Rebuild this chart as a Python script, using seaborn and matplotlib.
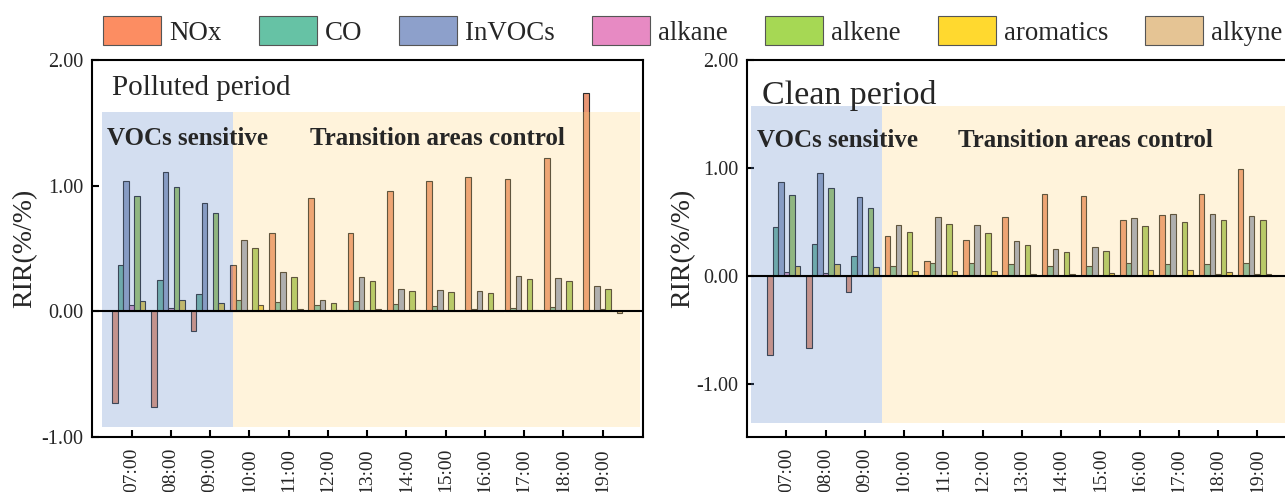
import numpy as np
import pandas as pd
import matplotlib
matplotlib.use("Agg")
import matplotlib.pyplot as plt
from matplotlib.patches import Rectangle, Patch
import seaborn as sns

# ---------------- data ----------------
hours = ['07:00', '08:00', '09:00', '10:00', '11:00', '12:00', '13:00',
         '14:00', '15:00', '16:00', '17:00', '18:00', '19:00']
species = ['NOx', 'CO', 'InVOCs', 'alkane', 'alkene', 'aromatics', 'alkyne']

pol_NOx = [-0.73, -0.765, -0.16, 0.37, 0.625, 0.90, 0.625, 0.955, 1.035, 1.07, 1.05, 1.22, 1.735]
pol_CO = [0.37, 0.25, 0.14, 0.09, 0.075, 0.05, 0.085, 0.06, 0.045, 0.02, 0.025, 0.035, 0.01]
pol_InVOCs = [1.04, 1.105, 0.86, 0.57, 0.31, 0.09, 0.275, 0.175, 0.17, 0.16, 0.28, 0.265, 0.20]
pol_alkane = [0.05, 0.025, 0.01, 0.01, 0.005, 0.005, 0.005, 0.005, 0.005, 0.005, 0.005, 0.005, 0.02]
pol_alkene = [0.915, 0.99, 0.78, 0.505, 0.275, 0.07, 0.245, 0.16, 0.155, 0.145, 0.255, 0.24, 0.18]
pol_aromatics = [0.085, 0.09, 0.07, 0.05, 0.02, 0.01, 0.02, 0.01, 0.005, 0.005, 0.01, 0.005, 0.003]
pol_alkyne = [0.005, 0.005, 0.003, 0.005, 0.005, 0.003, 0.003, 0.003, 0.003, 0.003, 0.003, 0.003, -0.01]

cln_NOx = [-0.735, -0.67, -0.145, 0.375, 0.14, 0.33, 0.55, 0.755, 0.745, 0.52, 0.565, 0.755, 0.995]
cln_CO = [0.45, 0.30, 0.185, 0.09, 0.12, 0.12, 0.11, 0.09, 0.09, 0.12, 0.115, 0.11, 0.125]
cln_InVOCs = [0.875, 0.95, 0.735, 0.47, 0.545, 0.47, 0.32, 0.255, 0.265, 0.535, 0.57, 0.575, 0.56]
cln_alkane = [0.04, 0.03, 0.01, 0.005, 0.01, 0.005, 0.003, 0.003, 0.003, 0.005, 0.005, 0.02, 0.02]
cln_alkene = [0.75, 0.815, 0.63, 0.41, 0.48, 0.40, 0.285, 0.22, 0.23, 0.46, 0.50, 0.52, 0.515]
cln_aromatics = [0.095, 0.11, 0.08, 0.05, 0.05, 0.05, 0.02, 0.02, 0.03, 0.06, 0.055, 0.035, 0.02]
cln_alkyne = [0.003, 0.003, 0.003, 0.003, 0.003, 0.003, 0.003, 0.003, 0.003, 0.003, 0.003, 0.003, 0.003]

ytick_vals = [-1.0, 0.0, 1.0, 2.0]
ytick_labels = ['-1.00', '0.00', '1.00', '2.00']

polluted = dict(zip(species, [pol_NOx, pol_CO, pol_InVOCs, pol_alkane, pol_alkene, pol_aromatics, pol_alkyne]))
clean = dict(zip(species, [cln_NOx, cln_CO, cln_InVOCs, cln_alkane, cln_alkene, cln_aromatics, cln_alkyne]))


def to_long(d):
    rows = []
    for sp in species:
        for h, v in zip(hours, d[sp]):
            rows.append((h, sp, v))
    return pd.DataFrame(rows, columns=['hour', 'species', 'RIR'])


# ---------------- style ----------------
sns.set_style("ticks")
plt.rcParams['font.family'] = ['Liberation Serif', 'DejaVu Serif']
plt.rcParams['axes.linewidth'] = 1.5

set2 = sns.color_palette("Set2", 8).as_hex()
colors = [set2[1], set2[0], set2[2], set2[3], set2[4], set2[5], set2[6]]
pal = dict(zip(species, colors))

W, H = 1285, 492
fig = plt.figure(figsize=(W / 100, H / 100), dpi=100)

ax1 = fig.add_axes([91.7 / W, 1 - 437 / H, 551 / W, 377 / H])
ax2 = fig.add_axes([746.7 / W, 1 - 437 / H, 544.3 / W, 377 / H])

panels = [
    dict(ax=ax1, data=polluted, ylim=(-1.0, 2.0), xlim=(-1.017, 13.02),
         blue=(-0.754, 2.583), yellow=(2.583, 12.95), shade_y=(-0.92, 1.59),
         title='Polluted period', tsize=21, tpos=(0.037, 0.907),
         vpos=(0.028, 0.775), tapos=(0.396, 0.775), ylab_x=-0.099),
    dict(ax=ax2, data=clean, ylim=(-1.49, 2.0), xlim=(-1.014, 12.86),
         blue=(-0.912, 2.433), yellow=(2.433, 13.5), shade_y=(-1.358, 1.574),
         title='Clean period', tsize=24.5, tpos=(0.028, 0.883),
         vpos=(0.019, 0.769), tapos=(0.388, 0.769), ylab_x=-0.095),
]

for p in panels:
    ax = p['ax']
    df = to_long(p['data'])
    sns.barplot(data=df, x='hour', y='RIR', hue='species', order=hours,
                hue_order=species, palette=pal, width=0.99, errorbar=None,
                edgecolor='#2b2b2b', linewidth=0.8, legend=False, ax=ax, zorder=2)
    ax.set_xlim(*p['xlim'])
    ax.set_ylim(*p['ylim'])

    # shaded regions as translucent overlays (tint the bars below)
    y0, y1 = p['shade_y']
    bx0, bx1 = p['blue']
    ax.add_patch(Rectangle((bx0, y0), bx1 - bx0, y1 - y0, facecolor='#648BCA',
                           alpha=0.284, edgecolor='none', zorder=3))
    yx0, yx1 = p['yellow']
    ax.add_patch(Rectangle((yx0, y0), yx1 - yx0, y1 - y0, facecolor='#FFD373',
                           alpha=0.25, edgecolor='none', zorder=3))

    ax.axhline(0, color='black', lw=1.5, zorder=4)

    ax.set_xticks(range(len(hours)))
    ax.set_xticklabels(hours, rotation=90, fontsize=14)
    ax.set_yticks(ytick_vals)
    ax.set_yticklabels(ytick_labels, fontsize=14.5)
    ax.tick_params(axis='both', direction='in', length=5, width=1.5, color='black')
    ax.tick_params(axis='x', pad=8)
    ax.tick_params(axis='y', pad=6)
    ax.set_xlabel('')
    ax.set_ylabel('RIR(%/%)', fontsize=20)
    ax.yaxis.set_label_coords(p['ylab_x'], 0.5)
    for s in ax.spines.values():
        s.set_visible(True)
        s.set_linewidth(1.5)
        s.set_color('black')

    ax.text(p['tpos'][0], p['tpos'][1], p['title'], transform=ax.transAxes,
            fontsize=p['tsize'], va='baseline', ha='left', zorder=6)
    ax.text(p['vpos'][0], p['vpos'][1], 'VOCs sensitive', transform=ax.transAxes,
            fontsize=18, fontweight='bold', va='baseline', ha='left', zorder=6)
    ax.text(p['tapos'][0], p['tapos'][1], 'Transition areas control', transform=ax.transAxes,
            fontsize=18, fontweight='bold', va='baseline', ha='left', zorder=6)

handles = [Patch(facecolor=pal[s], edgecolor='#555555', linewidth=0.8) for s in species]
fig.legend(handles, species, loc='center left', bbox_to_anchor=(103 / W, 1 - 31 / H),
           ncol=7, frameon=False, fontsize=19.4, handlelength=2.15, handleheight=1.25,
           handletextpad=0.3, columnspacing=1.38, borderaxespad=0, borderpad=0)

fig.savefig('out.png', dpi=100)
